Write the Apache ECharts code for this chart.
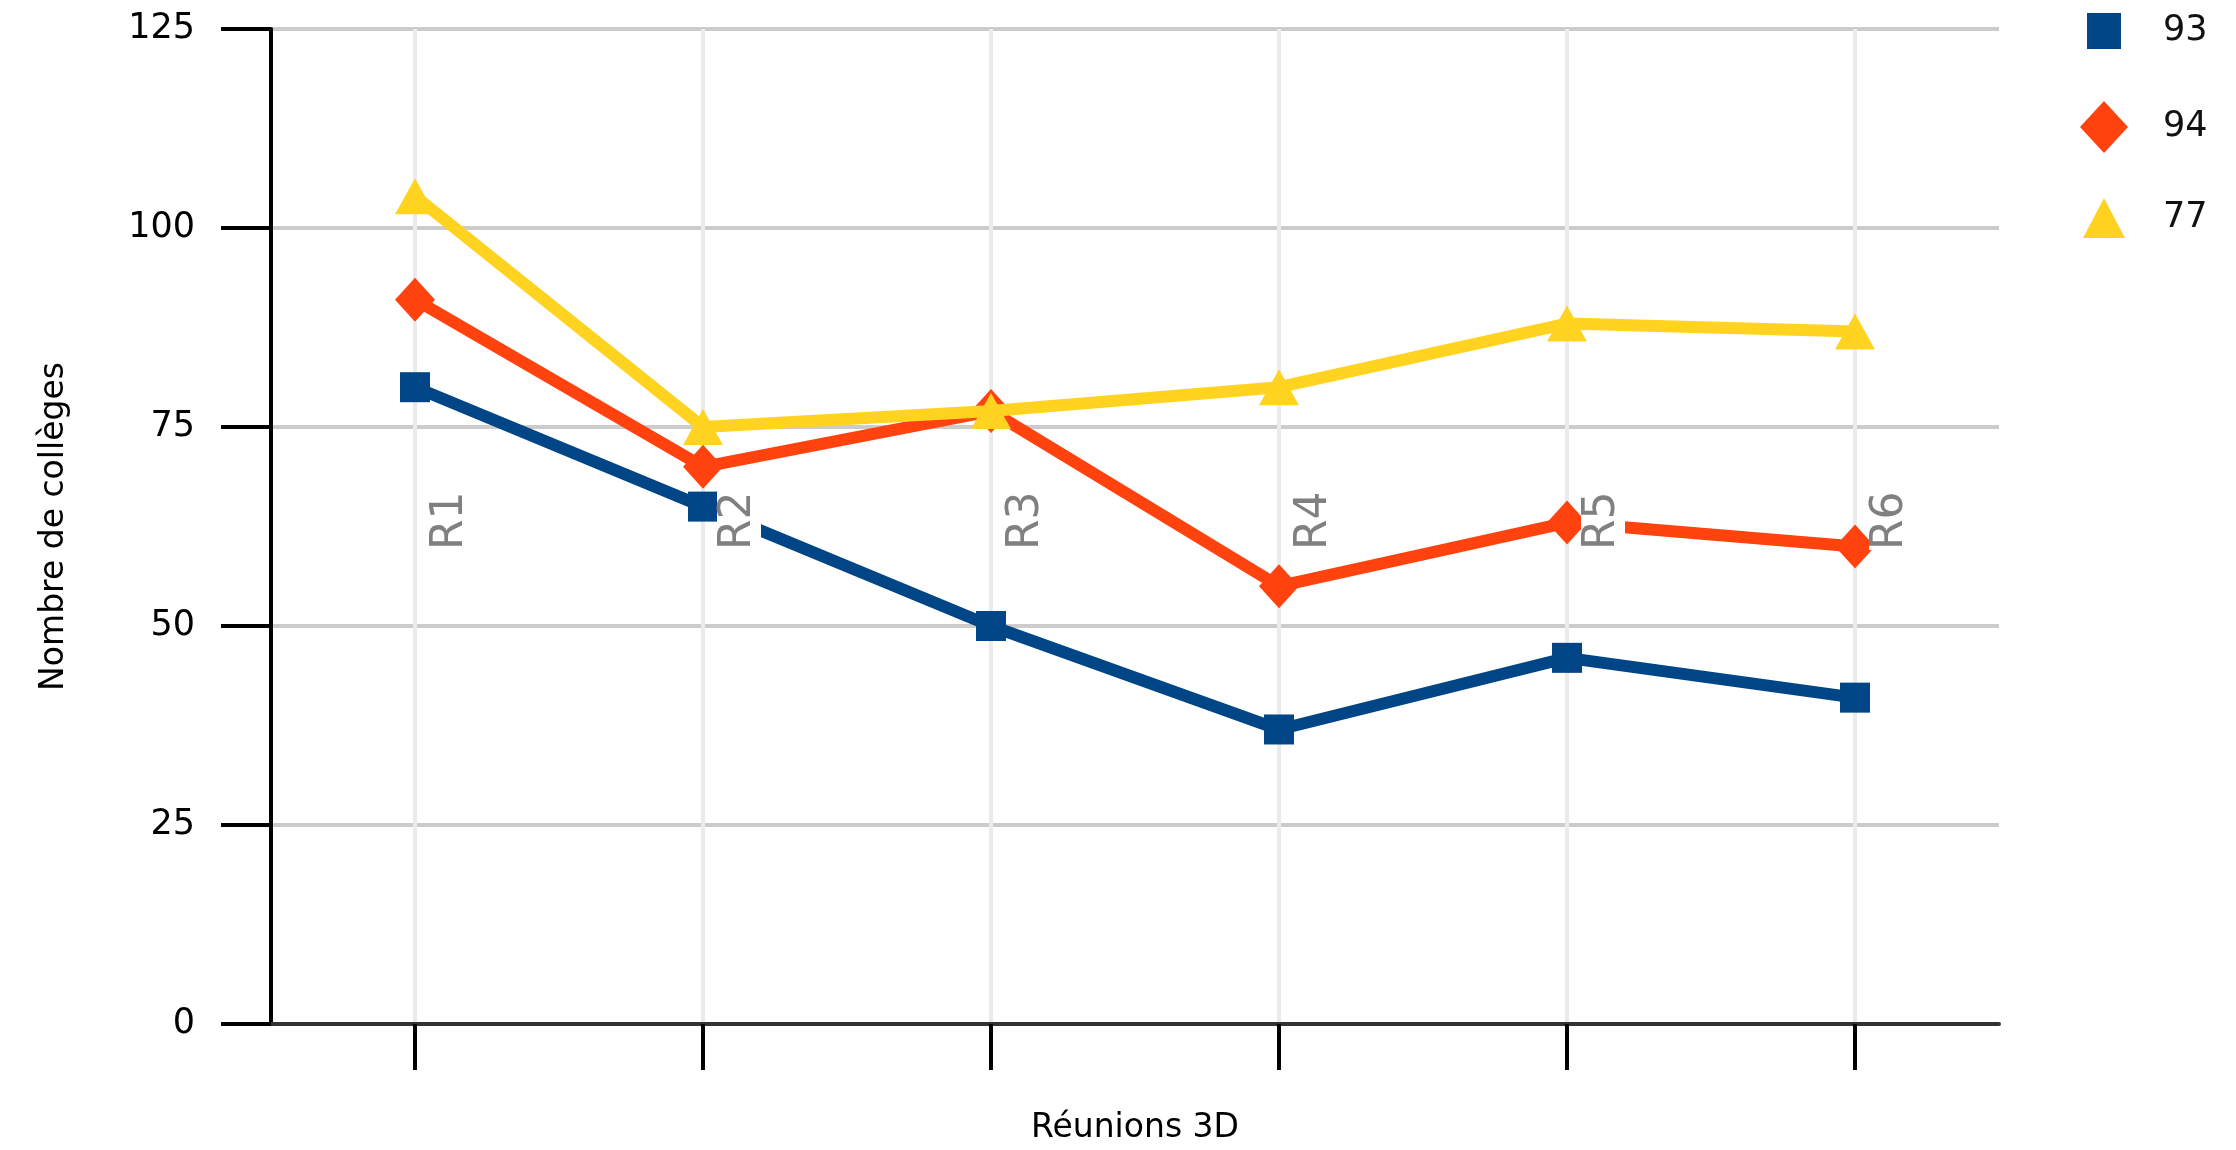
<!DOCTYPE html>
<html>
<head>
<meta charset="utf-8">
<script src="https://cdn.jsdelivr.net/npm/echarts@6/dist/echarts.min.js"></script>
<style>html,body{margin:0;padding:0;background:#fff}#c{width:2236px;height:1150px}</style>
</head>
<body>
<div id="c"></div>
<script>
const categories = ['R1', 'R2', 'R3', 'R4', 'R5', 'R6'];
const seriesNames = ['93', '94', '77'];
const values93 = [80, 65, 50, 37, 46, 41];
const values94 = [91, 70, 77, 55, 63, 60];
const values77 = [104, 75, 77, 80, 88, 87];
const yTicks = [0, 25, 50, 75, 100, 125];
const xName = 'Réunions 3D';
const yName = 'Nombre de collèges';

const colors = ['#004586', '#ff420e', '#ffd320'];
const symbols = ['rect', 'diamond', 'triangle'];
const symbolSizes = [30, [40, 44], [40, 36]];
const legendSizes = [[34, 36], [48, 52], [42, 40]];
const legendTops = [8, 96, 193];
const allValues = [values93, values94, values77];
const FONT = 'DejaVu Sans';

const chart = echarts.init(document.getElementById('c'));
chart.setOption({
  animation: false,
  backgroundColor: '#ffffff',
  grid: { left: 271, right: 237, top: 29, bottom: 123, containLabel: false },
  legend: seriesNames.map((n, i) => ({
    data: [{ name: n, icon: symbols[i] }],
    orient: 'vertical',
    left: 2099 - legendSizes[i][0] / 2,
    top: legendTops[i],
    itemWidth: legendSizes[i][0],
    itemHeight: legendSizes[i][1],
    itemGap: 0,
    selectedMode: false,
    textStyle: { fontFamily: FONT, fontSize: 35, color: '#111', padding: [0, 0, 0, 54 - legendSizes[i][0] / 2] }
  })),
  xAxis: [{
    type: 'category',
    data: categories,
    boundaryGap: true,
    name: xName,
    nameLocation: 'middle',
    nameGap: 88,
    nameTextStyle: { fontFamily: FONT, fontSize: 33, color: '#000' },
    axisLine: { show: true, lineStyle: { color: '#333333', width: 4 } },
    axisTick: { show: true, alignWithLabel: true, length: 46, lineStyle: { color: '#000', width: 4 } },
    axisLabel: { show: false },
    splitLine: { show: true, alignWithLabel: true, lineStyle: { color: '#ebebeb', width: 4 } }
  }, {
    type: 'category',
    data: categories,
    boundaryGap: true,
    position: 'bottom',
    z: 10,
    axisLine: { show: false },
    axisTick: { show: false },
    splitLine: { show: false },
    axisLabel: {
      inside: true,
      rotate: 90,
      margin: 474,
      verticalAlign: 'top',
      padding: [14, 0, 0, 0],
      fontFamily: FONT,
      fontSize: 44,
      color: '#808080',
      formatter: v => '{a|' + v + '}',
      rich: { a: { fontFamily: FONT, fontSize: 44, color: '#808080', backgroundColor: '#ffffff' } }
    }
  }],
  yAxis: {
    type: 'value',
    min: 0,
    max: 125,
    interval: 25,
    name: yName,
    nameLocation: 'middle',
    nameRotate: 90,
    nameGap: 200,
    nameTextStyle: { fontFamily: FONT, fontSize: 33, color: '#000' },
    axisLine: { show: true, lineStyle: { color: '#000', width: 4 } },
    axisTick: { show: true, length: 50, lineStyle: { color: '#000', width: 4 } },
    axisLabel: {
      margin: 76,
      fontFamily: FONT,
      fontSize: 35,
      color: '#000',
      formatter: v => (yTicks.indexOf(v) >= 0 ? String(v) : '')
    },
    splitLine: { show: true, lineStyle: { color: '#cccccc', width: 4 } }
  },
  series: seriesNames.map((n, i) => ({
    name: n,
    type: 'line',
    data: allValues[i],
    xAxisIndex: 0,
    symbol: symbols[i],
    symbolSize: symbolSizes[i],
    showAllSymbol: true,
    lineStyle: { color: colors[i], width: 12 },
    itemStyle: { color: colors[i] },
    z: 2 + i
  }))
});
</script>
</body>
</html>
